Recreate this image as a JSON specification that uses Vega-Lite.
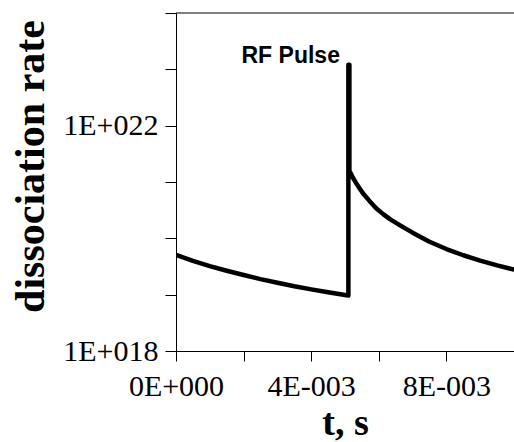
{
  "$schema": "https://vega.github.io/schema/vega-lite/v6.json",
  "width": 338,
  "height": 338,
  "autosize": {"type": "none"},
  "padding": {"left": 176, "top": 13, "right": 0, "bottom": 91},
  "background": "white",
  "config": {"view": {"stroke": null}},
  "datasets": {
    "curve": [
      {"order": 1, "t": 0.0, "rate": 5.07e19},
      {"order": 2, "t": 0.0005, "rate": 3.98e19},
      {"order": 3, "t": 0.001, "rate": 3.21e19},
      {"order": 4, "t": 0.0015, "rate": 2.66e19},
      {"order": 5, "t": 0.002, "rate": 2.23e19},
      {"order": 6, "t": 0.0025, "rate": 1.89e19},
      {"order": 7, "t": 0.003, "rate": 1.63e19},
      {"order": 8, "t": 0.0035, "rate": 1.41e19},
      {"order": 9, "t": 0.004, "rate": 1.24e19},
      {"order": 10, "t": 0.0045, "rate": 1.10e19},
      {"order": 11, "t": 0.005, "rate": 9.89e18},
      {"order": 12, "t": 0.0051, "rate": 9.66e18},
      {"order": 13, "t": 0.0051, "rate": 1.2e23},
      {"order": 14, "t": 0.00513, "rate": 1.2e23},
      {"order": 15, "t": 0.00513, "rate": 1.58e21},
      {"order": 16, "t": 0.00518, "rate": 1.38e21},
      {"order": 17, "t": 0.00523, "rate": 1.20e21},
      {"order": 18, "t": 0.00533, "rate": 9.55e20},
      {"order": 19, "t": 0.00543, "rate": 7.76e20},
      {"order": 20, "t": 0.00553, "rate": 6.31e20},
      {"order": 21, "t": 0.00573, "rate": 4.57e20},
      {"order": 22, "t": 0.00593, "rate": 3.39e20},
      {"order": 23, "t": 0.00613, "rate": 2.69e20},
      {"order": 24, "t": 0.00633, "rate": 2.19e20},
      {"order": 25, "t": 0.00663, "rate": 1.70e20},
      {"order": 26, "t": 0.007, "rate": 1.26e20},
      {"order": 27, "t": 0.0075, "rate": 8.71e19},
      {"order": 28, "t": 0.008, "rate": 6.46e19},
      {"order": 29, "t": 0.0085, "rate": 5.01e19},
      {"order": 30, "t": 0.009, "rate": 4.03e19},
      {"order": 31, "t": 0.0095, "rate": 3.31e19},
      {"order": 32, "t": 0.01, "rate": 2.79e19}
    ],
    "labels": [
      {"label": "RF Pulse", "t": 0.00485, "rate": 1.28e23}
    ],
    "frame": [
      {"rate": 1e24}
    ]
  },
  "layer": [
    {
      "data": {"name": "curve"},
      "mark": {"type": "line", "color": "black", "strokeWidth": 4.5, "strokeJoin": "round", "strokeCap": "round", "clip": true},
      "encoding": {
        "x": {
          "field": "t", "type": "quantitative",
          "scale": {"domain": [0, 0.01], "nice": false, "zero": false},
          "axis": {
            "title": "t, s",
            "values": [0, 0.002, 0.004, 0.006, 0.008, 0.01],
            "labelExpr": "abs(datum.value) < 1e-9 ? '0E+000' : abs(datum.value - 0.004) < 1e-9 ? '4E-003' : abs(datum.value - 0.008) < 1e-9 ? '8E-003' : ''",
            "grid": false,
            "domainColor": "black",
            "domainWidth": 1,
            "tickColor": "black",
            "tickWidth": 1,
            "tickSize": 10,
            "labelFont": "Liberation Serif",
            "labelFontSize": 30,
            "labelColor": "black",
            "labelPadding": 10,
            "labelFlush": false,
            "labelOverlap": false,
            "titleFont": "Liberation Serif",
            "titleFontSize": 38,
            "titleFontWeight": "bold",
            "titleColor": "black",
            "titleBaseline": "alphabetic",
            "titleY": 83
          }
        },
        "y": {
          "field": "rate", "type": "quantitative",
          "scale": {"type": "log", "domain": [1e18, 1e24], "nice": false},
          "axis": {
            "title": "dissociation rate",
            "values": [1e18, 1e19, 1e20, 1e21, 1e22, 1e23, 1e24],
            "labelExpr": "round(log(datum.value) / LN10) == 18 ? '1E+018' : round(log(datum.value) / LN10) == 22 ? '1E+022' : ''",
            "grid": false,
            "domainColor": "black",
            "domainWidth": 1,
            "tickColor": "black",
            "tickWidth": 1,
            "tickSize": 11,
            "labelFont": "Liberation Serif",
            "labelFontSize": 30,
            "labelColor": "black",
            "labelPadding": 7,
            "labelBaseline": "middle",
            "labelFlush": false,
            "labelOverlap": false,
            "titleFont": "Liberation Serif",
            "titleFontSize": 42,
            "titleFontWeight": "bold",
            "titleColor": "black",
            "titleAngle": 270,
            "titleBaseline": "alphabetic",
            "titleAlign": "center",
            "titleX": -133,
            "titleY": 153
          }
        },
        "order": {"field": "order", "type": "quantitative"}
      }
    },
    {
      "data": {"name": "frame"},
      "mark": {"type": "rule", "color": "black", "strokeWidth": 1},
      "encoding": {
        "y": {"field": "rate", "type": "quantitative"}
      }
    },
    {
      "data": {"name": "labels"},
      "mark": {"type": "text", "font": "Liberation Sans", "fontWeight": "bold", "fontSize": 23, "align": "right", "baseline": "alphabetic", "color": "black"},
      "encoding": {
        "x": {"field": "t", "type": "quantitative"},
        "y": {"field": "rate", "type": "quantitative"},
        "text": {"field": "label"}
      }
    }
  ]
}
